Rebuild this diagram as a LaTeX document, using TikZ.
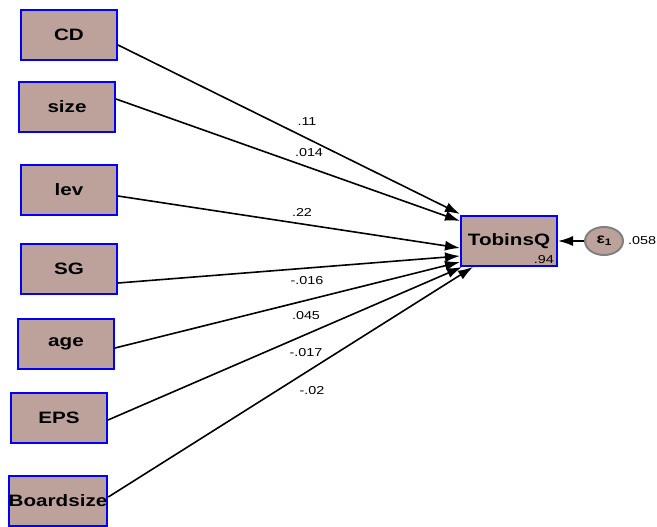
\documentclass[tikz,border=0pt]{standalone}
\usepackage{fontspec}
\usetikzlibrary{arrows.meta,calc,shapes.geometric}
\newfontfamily\lbl[FakeStretch=1.25]{Liberation Sans}
\definecolor{boxfill}{RGB}{188,162,155}
\definecolor{boxline}{RGB}{0,0,255}
\definecolor{errline}{RGB}{128,128,128}
\tikzset{
  var/.style={draw=boxline, line width=2pt, fill=boxfill, minimum width=96pt, minimum height=50pt, inner sep=0pt,
    font=\lbl\bfseries\fontsize{16.5}{18}\selectfont},
  errnode/.style={ellipse, draw=errline, line width=2pt, fill=boxfill, minimum width=38pt, minimum height=28pt, inner sep=0pt,
    font=\lbl\bfseries\fontsize{14}{15}\selectfont},
  coef/.style={font=\lbl\fontsize{11.5}{13}\selectfont, inner sep=0pt},
  path/.style={draw=black, line width=1.6pt, -{Latex[length=15pt,width=10pt]}}
}
\begin{document}
\begin{tikzpicture}[x=1pt,y=-1pt]
\useasboundingbox (0,0) rectangle (657,527);
\node[var] (CD) at (69,35) {CD};
\node[var] (size) at (67,107) {size};
\node[var] (lev) at (69,190) {lev};
\node[var] (SG) at (69,269) {SG};
\node[var] (age) at (66,344) {age};
\node[var] (EPS) at (59,418) {EPS};
\node[var] (Board) at (58,501) {Boardsize};
\node[var] (TQ) at (509,241) {TobinsQ};
\node[coef, anchor=south east] (r2) at ($(TQ.south east)+(-4,-3)$) {.94};
\node[errnode] (e1) at (604,241) {ε\raisebox{-0.25ex}{\fontsize{9.5}{10}\selectfont 1}};
\node[coef, anchor=west] (evar) at (628,241) {.058};

\draw[path] ($(CD.east)+(0,10)$) -- ($(TQ.west)+(0,-27)$);
\draw[path] ($(size.east)+(0,-8)$) -- ($(TQ.west)+(0,-20)$);
\draw[path] ($(lev.east)+(0,6)$) -- ($(TQ.west)+(0,7)$);
\draw[path] ($(SG.east)+(0,14)$) -- ($(TQ.west)+(0,15)$);
\draw[path] ($(age.east)+(0,4)$) -- ($(TQ.west)+(0,21)$);
\draw[path] ($(EPS.east)+(0,2)$) -- ($(TQ.south west)+(2,0)$);
\draw[path] ($(Board.east)+(0,-4)$) -- ($(TQ.south west)+(13,0)$);
\draw[path] (e1.west) -- (TQ.east);

\node[coef] (c1) at (307,122) {.11};
\node[coef] (c2) at (309,153) {.014};
\node[coef] (c3) at (302,212) {.22};
\node[coef] (c4) at (307,281) {-.016};
\node[coef] (c5) at (306,316) {.045};
\node[coef] (c6) at (306,353) {-.017};
\node[coef] (c7) at (312,391) {-.02};
\end{tikzpicture}
\end{document}
